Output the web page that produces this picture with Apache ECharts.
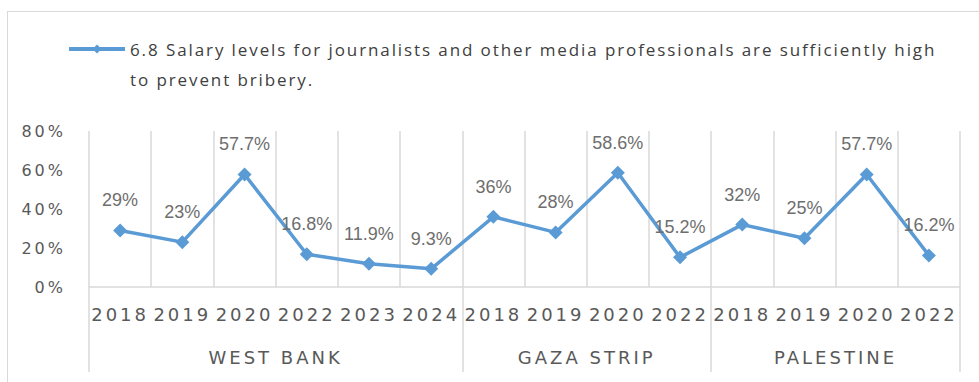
<!DOCTYPE html>
<html>
<head>
<meta charset="utf-8">
<script src="https://cdn.jsdelivr.net/npm/echarts@6/dist/echarts.min.js"></script>
<style>
  html, body { margin: 0; padding: 0; background: #ffffff; }
  #chart { position: absolute; left: 0; top: 0; width: 979px; height: 382px; }
  #frame { position: absolute; left: 7px; top: 11px; width: 2000px; height: 2000px;
           border: 1px solid #d9d9d9; pointer-events: none; }
  #chart text[style*="DejaVu"] { letter-spacing: 3px; }
  #chart text[style*="Open Sans"] { letter-spacing: 1.9px; }
</style>
</head>
<body>
<div id="chart"></div>
<div id="frame"></div>
<script>
// ---- data ----
const seriesName = '6.8 Salary levels for journalists and other media professionals are sufficiently high to prevent bribery.';
const years = ['2018','2019','2020','2022','2023','2024','2018','2019','2020','2022','2018','2019','2020','2022'];
const values = [29, 23, 57.7, 16.8, 11.9, 9.3, 36, 28, 58.6, 15.2, 32, 25, 57.7, 16.2];
const groups = ['WEST BANK', 'GAZA STRIP', 'PALESTINE'];
const groupSizes = [6, 4, 4];
const yTicks = [0, 20, 40, 60, 80];

// group boundaries and centres on a 0..N scale, derived from group sizes
const bounds = [0];
groupSizes.forEach(s => bounds.push(bounds[bounds.length - 1] + s));
const centres = groupSizes.map((s, i) => bounds[i] + s / 2);

const grey = '#d9d9d9';
const blue = '#5B9BD5';
const chart = echarts.init(document.getElementById('chart'), null, { renderer: 'svg' });
chart.setOption({
  animation: false,
  legend: {
    left: 67, top: 4, padding: 0,
    itemWidth: 56, itemHeight: 11,
    data: [seriesName],
    lineStyle: { width: 4, color: blue },
    itemStyle: { color: blue },
    formatter: n => '\n' + n.replace(' to prevent', '\nto prevent'),
    textStyle: { fontFamily: 'Open Sans', fontSize: 17, color: '#404040', lineHeight: 30 }
  },
  grid: { left: 89, right: 19, top: 131, bottom: 95 },
  xAxis: [
    {
      type: 'category', data: years, boundaryGap: true,
      axisLine: { show: true, lineStyle: { color: grey, width: 1.5 } },
      axisTick: { show: false },
      splitLine: { show: true, lineStyle: { color: grey, width: 1.5 } },
      axisLabel: { interval: 0, margin: 18, fontFamily: 'DejaVu Sans', fontSize: 18, color: '#595959' }
    },
    {
      type: 'value', min: 0, max: bounds[bounds.length - 1], position: 'bottom',
      axisLine: { show: false },
      splitLine: { show: false },
      axisTick: { show: true, customValues: bounds, length: 85, lineStyle: { color: grey, width: 1.5 } },
      axisLabel: {
        customValues: centres, margin: 61,
        formatter: v => groups[centres.indexOf(v)] || '',
        fontFamily: 'DejaVu Sans', fontSize: 18, color: '#595959'
      }
    }
  ],
  yAxis: {
    type: 'value', min: yTicks[0], max: yTicks[yTicks.length - 1], interval: yTicks[1] - yTicks[0],
    axisLine: { show: false }, axisTick: { show: false }, splitLine: { show: false },
    axisLabel: { formatter: '{value}%', margin: 23, fontFamily: 'DejaVu Sans', fontSize: 16, color: '#595959' }
  },
  series: [{
    name: seriesName, type: 'line', xAxisIndex: 0, data: values,
    symbol: 'diamond', symbolSize: 14,
    lineStyle: { color: blue, width: 3.5 },
    itemStyle: { color: blue },
    label: {
      show: true, position: 'top', distance: 14,
      formatter: p => p.value + '%',
      fontFamily: 'Liberation Sans', fontSize: 18, color: '#6e6e6e'
    }
  }]
});
</script>
</body>
</html>
